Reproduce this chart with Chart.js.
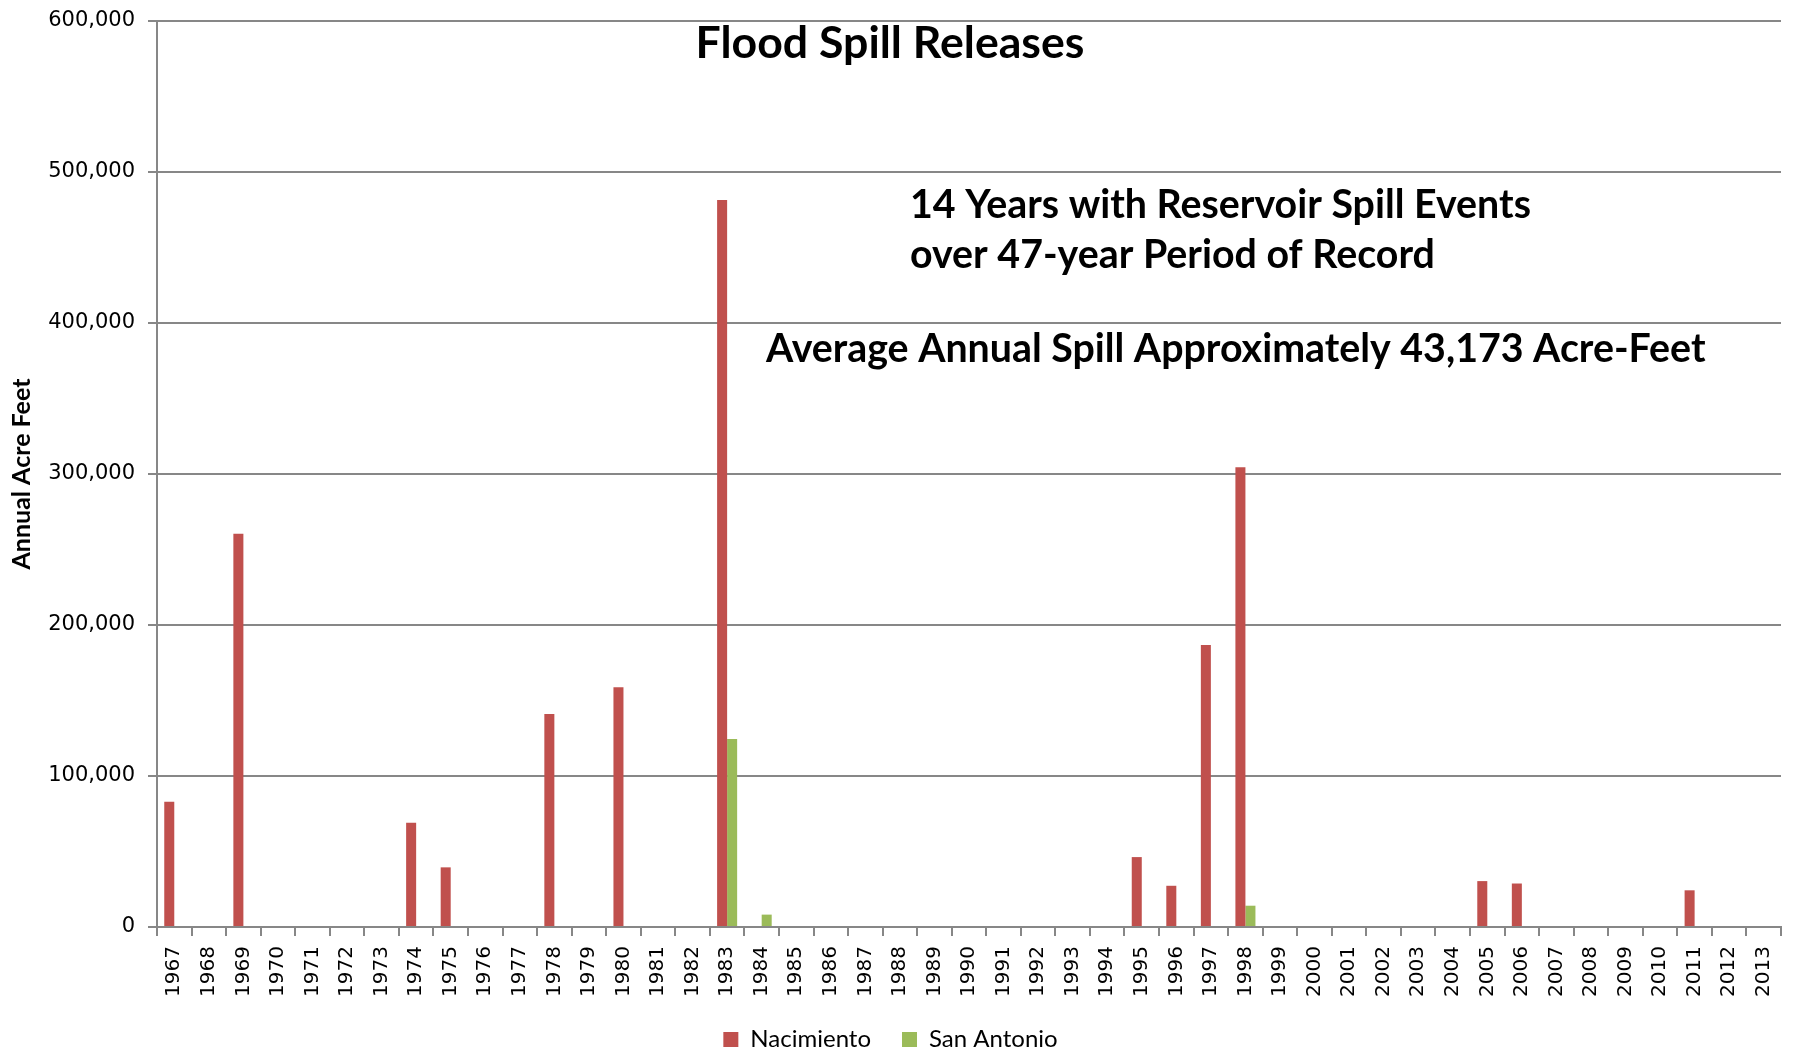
<!DOCTYPE html>
<html>
<head>
<meta charset="utf-8">
<script src="https://cdn.jsdelivr.net/npm/chart.js@4.4.1/dist/chart.umd.min.js"></script>
<style>
  html, body { margin: 0; padding: 0; background: #fff; }
</style>
</head>
<body>
<canvas id="myChart" width="1798" height="1053"></canvas>
<script>
const years = [
  '1967', '1968', '1969', '1970', '1971', '1972', '1973', '1974', '1975', '1976',
  '1977', '1978', '1979', '1980', '1981', '1982', '1983', '1984', '1985', '1986',
  '1987', '1988', '1989', '1990', '1991', '1992', '1993', '1994', '1995', '1996',
  '1997', '1998', '1999', '2000', '2001', '2002', '2003', '2004', '2005', '2006',
  '2007', '2008', '2009', '2010', '2011', '2012', '2013'
];

// acre-feet per year
const nacimiento = [
  83000, 0, 260500, 0, 0, 0, 0, 69000, 39500, 0,
  0, 141000, 0, 158700, 0, 0, 481500, 0, 0, 0,
  0, 0, 0, 0, 0, 0, 0, 0, 46300, 27300,
  186800, 304500, 0, 0, 0, 0, 0, 0, 30400, 28800,
  0, 0, 0, 0, 24300, 0, 0
];
const sanAntonio = [
  0, 0, 0, 0, 0, 0, 0, 0, 0, 0,
  0, 0, 0, 0, 0, 0, 124500, 8200, 0, 0,
  0, 0, 0, 0, 0, 0, 0, 0, 0, 0,
  0, 14100, 0, 0, 0, 0, 0, 0, 0, 0,
  0, 0, 0, 0, 0, 0, 0
];

const yMax = 600000;
const yStep = 100000;

const chartTitle = 'Flood Spill Releases';
const notes = [
  '14 Years with Reservoir Spill Events',
  'over 47-year Period of Record',
  'Average Annual Spill Approximately 43,173 Acre-Feet'
];

const grey = '#878787';

// title and notes sit inside the plot, like the text boxes of the original
const textBoxes = {
  id: 'textBoxes',
  afterDraw(chart) {
    const ctx = chart.ctx;
    ctx.save();
    ctx.fillStyle = '#000';
    ctx.textBaseline = 'middle';

    // fit the long note to its width, reuse that size for the others
    ctx.font = 'bold 40px Lato';
    let size = 40 * 940 / ctx.measureText(notes[2]).width;
    ctx.font = 'bold ' + size + 'px Lato';
    ctx.textAlign = 'left';
    ctx.fillText(notes[0], 910, 205);
    ctx.fillText(notes[1], 910, 255);
    ctx.fillText(notes[2], 766, 349);

    ctx.font = 'bold 40px Lato';
    let tsize = 40 * 389 / ctx.measureText(chartTitle).width;
    ctx.font = 'bold ' + tsize + 'px Lato';
    ctx.textAlign = 'center';
    ctx.fillText(chartTitle, 890, 44);
    ctx.restore();
  }
};

new Chart(document.getElementById('myChart'), {
  type: 'bar',
  plugins: [textBoxes],
  data: {
    labels: years,
    datasets: [
      {
        label: 'Nacimiento',
        data: nacimiento,
        backgroundColor: '#C0504D',
        borderWidth: 0,
        categoryPercentage: 0.58,
        barPercentage: 1.0
      },
      {
        label: 'San Antonio',
        data: sanAntonio,
        backgroundColor: '#9BBB59',
        borderWidth: 0,
        categoryPercentage: 0.58,
        barPercentage: 1.0
      }
    ]
  },
  options: {
    responsive: false,
    animation: false,
    layout: { padding: { left: 0, right: 17, top: 21, bottom: -8.5 } },
    plugins: {
      legend: {
        display: true,
        position: 'bottom',
        labels: {
          boxWidth: 15,
          boxHeight: 15,
          padding: 31,
          color: '#000',
          font: { family: 'Lato', size: 24 }
        }
      },
      tooltip: { enabled: false }
    },
    scales: {
      x: {
        grid: {
          drawOnChartArea: false,
          drawTicks: true,
          tickLength: 9,
          color: grey,
          lineWidth: 2
        },
        border: { color: grey, width: 2 },
        ticks: {
          autoSkip: false,
          minRotation: 90,
          maxRotation: 90,
          padding: 10,
          color: '#000',
          font: { family: 'DejaVu Sans', size: 20 }
        },
        afterFit(scale) {
          scale.height = 69.5;
          scale.paddingTop = 0;
        }
      },
      y: {
        min: 0,
        max: yMax,
        grid: { color: grey, lineWidth: 2, tickLength: 9 },
        border: { color: grey, width: 2 },
        ticks: {
          stepSize: yStep,
          padding: 13,
          color: '#000',
          font: { family: 'DejaVu Sans', size: 21 },
          callback: v => v.toLocaleString('en-US')
        },
        title: {
          display: true,
          text: 'Annual Acre Feet',
          color: '#000',
          font: { family: 'Lato', weight: 'bold', size: 25 },
          padding: { top: 7, bottom: 0 }
        },
        afterFit(scale) {
          scale.width = 157;
          scale.paddingTop = 0;
          scale.paddingBottom = 0;
        }
      }
    }
  }
});
</script>
</body>
</html>
